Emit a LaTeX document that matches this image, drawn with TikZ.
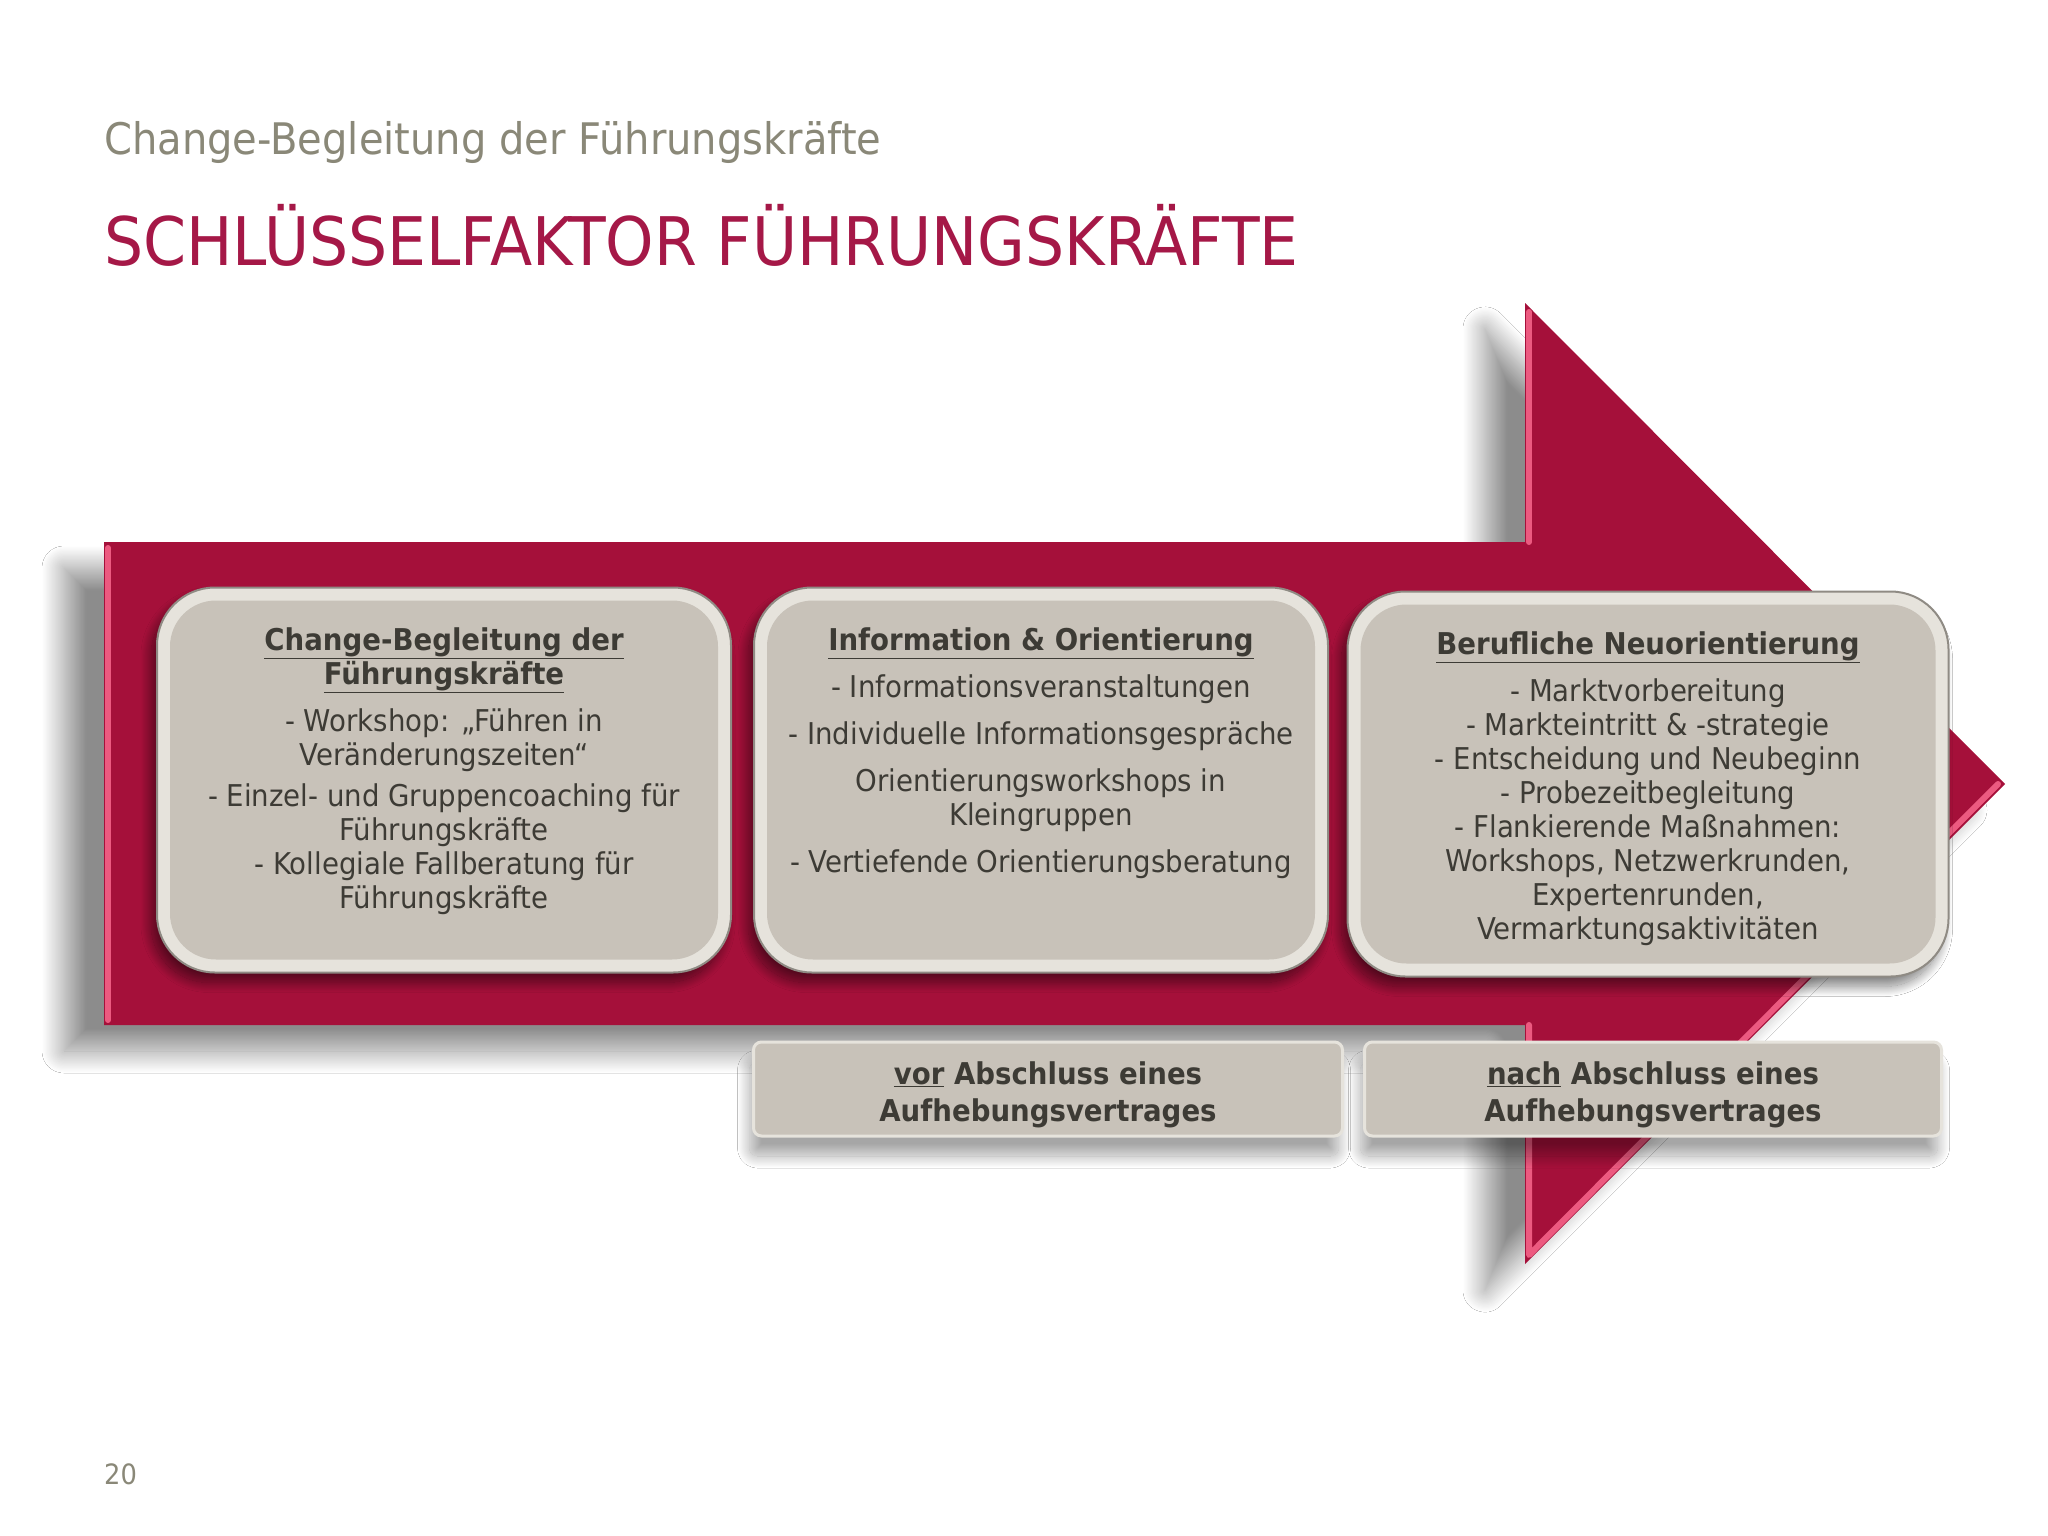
\documentclass[tikz,border=0pt]{standalone}
\usepackage{fontspec}
\setmainfont[FakeStretch=0.92]{DejaVu Sans}
\usetikzlibrary{shadows.blur}

\definecolor{arrowred}{HTML}{A5103A}
\definecolor{titlered}{HTML}{A51847}
\definecolor{subgray}{HTML}{8A8878}
\definecolor{panelfill}{HTML}{C8C2B9}
\definecolor{panelrim}{HTML}{E6E3DC}
\definecolor{paneledge}{HTML}{8F8B84}
\definecolor{textgray}{HTML}{3D3B35}
\definecolor{bevelpink}{HTML}{EC5A80}

\tikzset{
  panel/.style={rounded corners=58pt, fill=panelrim, draw=paneledge, line width=2pt, inner sep=0pt,
    blur shadow={shadow xshift=-6pt, shadow yshift=-10pt, shadow blur radius=10pt, shadow blur steps=30, shadow opacity=50}},
  panelin/.style={rounded corners=46pt, fill=panelfill, inner sep=0pt},
  paneltext/.style={text=textgray, align=center, font=\fontsize{30}{34}\selectfont, inner sep=0pt, anchor=north},
  tagbox/.style={rounded corners=8pt, fill=panelfill, draw=panelrim, line width=3pt, inner sep=0pt,
    blur shadow={shadow xshift=-4pt, shadow yshift=-20pt, shadow blur radius=12pt, shadow blur steps=30, shadow opacity=35}},
  tagtext/.style={text=textgray, align=center, font=\bfseries\fontsize{30}{37}\selectfont, inner sep=0pt},
}

\begin{document}
\begin{tikzpicture}[line cap=round,line join=round,x=1pt,y=-1pt]
    \fill[white] (0,0) rectangle (2048,1536);
    \useasboundingbox (0,0) rectangle (2048,1536);

    \node[anchor=base west, inner sep=0pt, text=subgray, font=\fontsize{43.5}{52}\selectfont] (kicker) at (104,154) {Change-Begleitung der Führungskräfte};
    \node[anchor=base west, inner sep=0pt, text=titlered, font=\fontsize{67}{80}\selectfont] (headline) at (104,265) {SCHLÜSSELFAKTOR FÜHRUNGSKRÄFTE};

    \fill[arrowred, blur shadow={shadow xshift=-40pt, shadow yshift=-26pt, shadow blur radius=22pt, shadow blur steps=40, shadow opacity=45}]
        (104,542) -- (1525,542) -- (1525,303) -- (2005,784) -- (1525,1264) -- (1525,1025) -- (104,1025) -- cycle;
    \draw[bevelpink, line width=6pt] (108,548) -- (108,1020);
    \draw[bevelpink, line width=6pt] (1529,312) -- (1529,542);
    \draw[bevelpink, line width=6pt] (1529,1025) -- (1529,1255) -- (1998,784);

    \node[panel, minimum width=574pt, minimum height=385pt] (lead) at (444,780) {};
    \node[panelin, minimum width=548pt, minimum height=359pt] (leadin) at (lead.center) {};
    \node[paneltext] (leadtxt) at (444,627) {\textbf{\underline{Change-Begleitung der}}\\\textbf{\underline{Führungskräfte}}\\[13pt]
        - Workshop: „Führen in\\Veränderungszeiten“\\[7pt]
        - Einzel- und Gruppencoaching für\\Führungskräfte\\
        - Kollegiale Fallberatung für\\Führungskräfte};

    \node[panel, minimum width=574pt, minimum height=385pt] (info) at (1041,780) {};
    \node[panelin, minimum width=548pt, minimum height=359pt] (infoin) at (info.center) {};
    \node[paneltext] (infotxt) at (1041,627) {\textbf{\underline{Information \& Orientierung}}\\[13pt]
        - Informationsveranstaltungen\\[13pt]
        - Individuelle Informationsgespräche\\[13pt]
        Orientierungsworkshops in\\Kleingruppen\\[13pt]
        - Vertiefende Orientierungsberatung};

    \node[panel, minimum width=601pt, minimum height=385pt] (career) at (1648,784) {};
    \node[panelin, minimum width=575pt, minimum height=359pt] (careerin) at (career.center) {};
    \node[paneltext] (careertxt) at (1648,631) {\textbf{\underline{Berufliche Neuorientierung}}\\[13pt]
        - Marktvorbereitung\\
        - Markteintritt \& -strategie\\
        - Entscheidung und Neubeginn\\
        - Probezeitbegleitung\\
        - Flankierende Maßnahmen:\\
        Workshops, Netzwerkrunden,\\
        Expertenrunden,\\
        Vermarktungsaktivitäten};

    \node[tagbox, minimum width=589pt, minimum height=94pt] (before) at (1048,1089) {};
    \node[tagtext] (beforetxt) at ([yshift=-6pt]before.center) {\underline{vor} Abschluss eines\\Aufhebungsvertrages};
    \node[tagbox, minimum width=577pt, minimum height=94pt] (after) at (1653,1089) {};
    \node[tagtext] (aftertxt) at ([yshift=-6pt]after.center) {\underline{nach} Abschluss eines\\Aufhebungsvertrages};

    \node[anchor=base west, inner sep=0pt, text=subgray, font=\fontsize{28}{34}\selectfont] (pageno) at (104,1484) {20};
\end{tikzpicture}
\end{document}
